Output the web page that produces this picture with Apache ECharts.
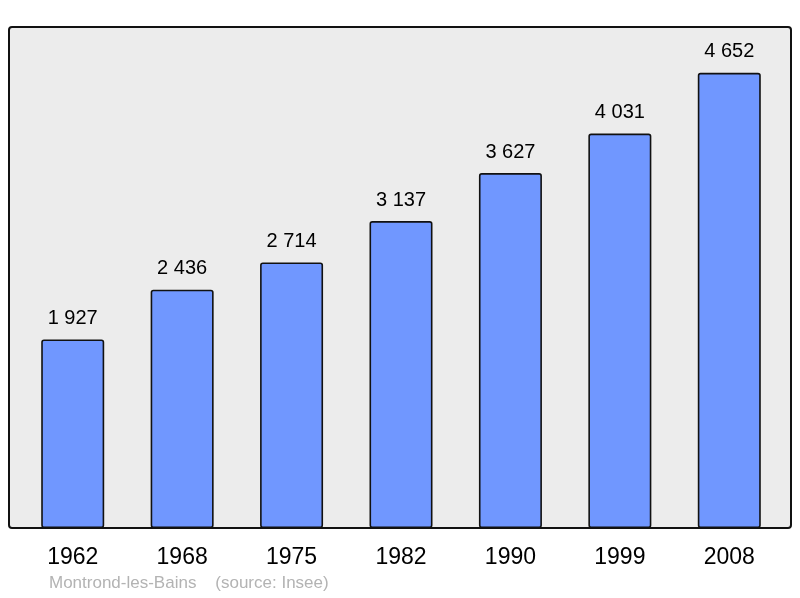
<!DOCTYPE html>
<html>
<head>
<meta charset="utf-8">
<script src="https://cdn.jsdelivr.net/npm/echarts@6/dist/echarts.min.js"></script>
<style>
html,body{margin:0;padding:0;background:#fff;}
#chart{width:800px;height:598px;}
</style>
</head>
<body>
<div id="chart"></div>
<script>
var years = ['1962', '1968', '1975', '1982', '1990', '1999', '2008'];
var population = [1927, 2436, 2714, 3137, 3627, 4031, 4652];
var footer = 'Montrond-les-Bains    (source: Insee)';

function fmt(v){
	return String(v).replace(/\B(?=(\d{3})+(?!\d))/g, ' ');
}

var chart = echarts.init(document.getElementById('chart'));
var option = {
	animation: false,
	textStyle: { fontFamily: 'Liberation Sans, Arial, sans-serif' },
	graphic: [{
		type: 'rect',
		z: -10,
		shape: { x: 9, y: 27, width: 782, height: 501, r: 3 },
		style: { fill: '#ececec', stroke: '#111', lineWidth: 2 }
	}, {
		type: 'text',
		left: 49,
		top: 575,
		style: {
			text: footer,
			fill: '#b3b3b3',
			fontSize: 17,
			fontFamily: 'Liberation Sans, Arial, sans-serif'
		}
	}],
	grid: {
		left: 18,
		right: 16,
		top: 27,
		bottom: 70
	},
	xAxis: {
		type: 'category',
		data: years,
		axisLine: { show: false },
		axisTick: { show: false },
		axisLabel: {
			color: '#000',
			fontSize: 23,
			margin: 18
		}
	},
	yAxis: {
		type: 'value',
		min: 0,
		max: 5120,
		show: false
	},
	series: [{
		type: 'bar',
		data: population,
		barWidth: 63,
		itemStyle: {
			color: '#7097ff',
			borderColor: '#111',
			borderWidth: 1.6,
			borderRadius: 2
		},
		label: {
			show: true,
			position: 'top',
			distance: 11,
			color: '#000',
			fontSize: 20,
			formatter: function(p){ return fmt(p.value); }
		}
	}]
};
chart.setOption(option);
</script>
</body>
</html>
